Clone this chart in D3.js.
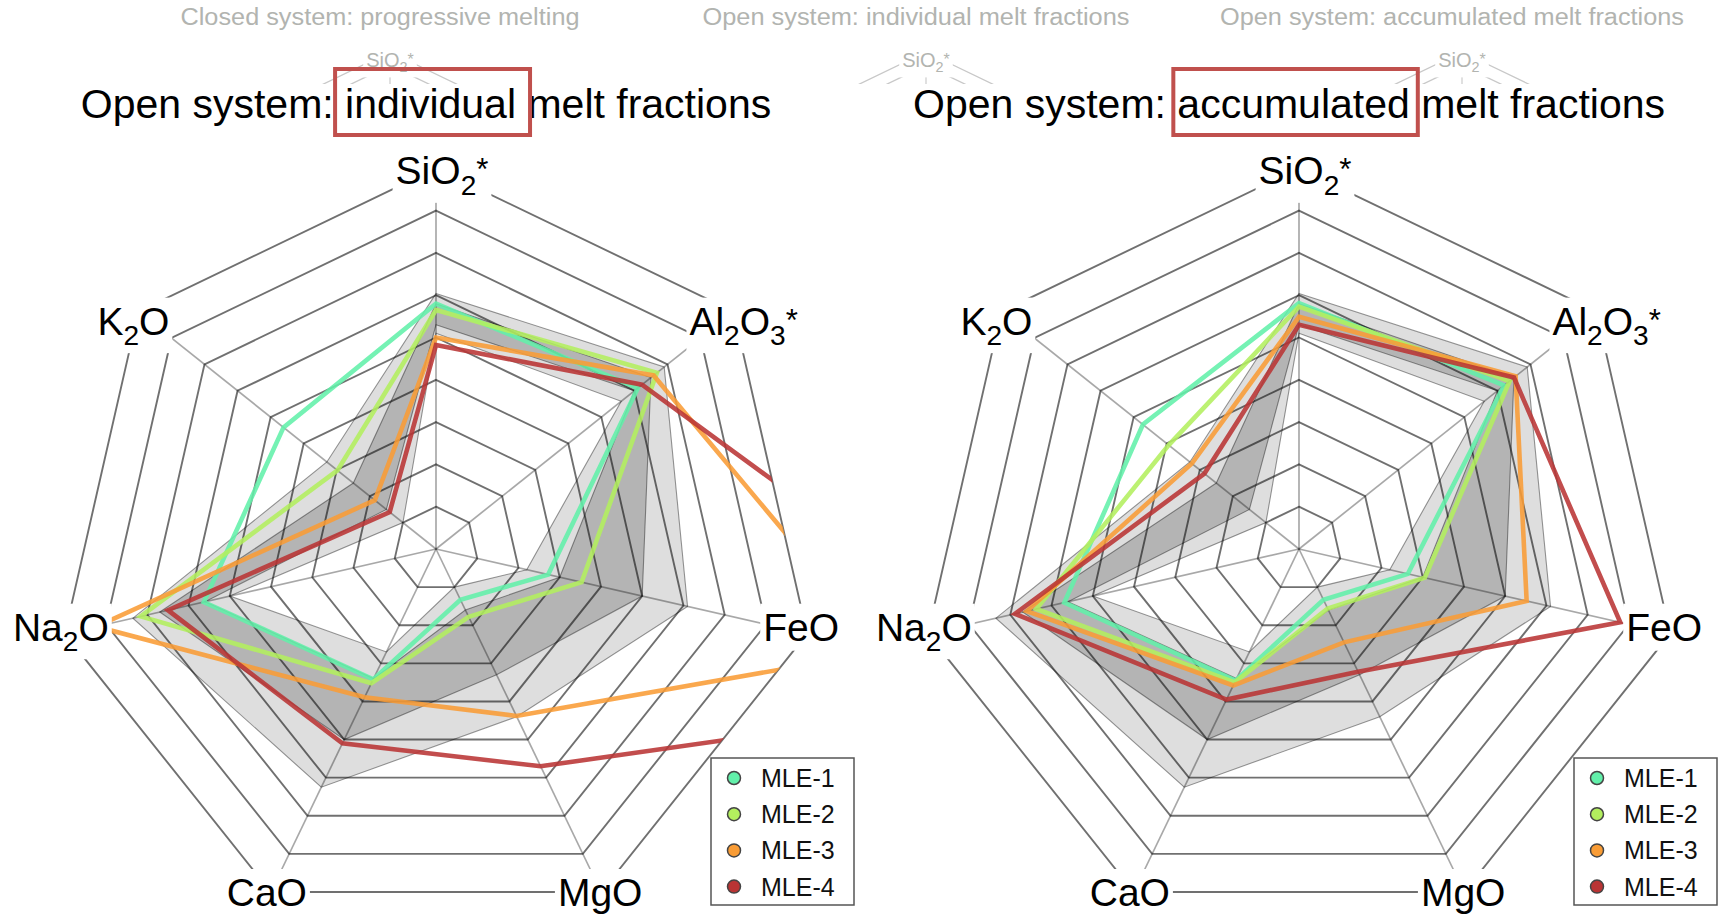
<!DOCTYPE html>
<html>
<head>
<meta charset="utf-8">
<script src="https://cdn.jsdelivr.net/npm/d3@7"></script>
<style>
  html, body { margin: 0; padding: 0; background: #fff; }
  svg { display: block; font-family: "Liberation Sans", Arial, Helvetica, sans-serif; }
</style>
</head>
<body>
<svg id="chart" width="1723" height="914"></svg>
<script>
// ---- axes (oxides), clockwise from the top ----
const axisKeys = ["SiO2*", "Al2O3*", "FeO", "MgO", "CaO", "Na2O", "K2O"];
const axisLabelParts = [
  [["SiO", "n"], ["2", "sub"], ["*", "sup"]],
  [["Al", "n"], ["2", "sub"], ["O", "n"], ["3", "sub"], ["*", "sup"]],
  [["FeO", "n"]],
  [["MgO", "n"]],
  [["CaO", "n"]],
  [["Na", "n"], ["2", "sub"], ["O", "n"]],
  [["K", "n"], ["2", "sub"], ["O", "n"]]
];
const ringLevels = [1, 2, 3, 4, 5, 6, 7, 8, 9];

// ---- series ----
const seriesNames = ["MLE-1", "MLE-2", "MLE-3", "MLE-4"];
const seriesColors = ["#62f0aa", "#b3ef5e", "#f99c35", "#b93434"];

// individual melt fractions (order of axisKeys)
const individualMLE1 = [5.8, 6.1, 2.72, 1.33, 3.42, 5.63, 4.61];
const individualMLE2 = [5.65, 6.68, 3.53, 1.78, 3.52, 7.16, 2.98];
const individualMLE3 = [5.0, 6.58, 10.87, 4.38, 3.89, 8.24, 1.85];
const individualMLE4 = [4.82, 6.23, 15.2, 5.7, 5.1, 6.5, 1.4];

// accumulated melt fractions
const accumulatedMLE1 = [5.81, 6.2, 2.64, 1.33, 3.45, 5.69, 4.72];
const accumulatedMLE2 = [5.73, 6.37, 3.05, 1.56, 3.5, 6.37, 3.94];
const accumulatedMLE3 = [5.49, 6.55, 5.52, 2.45, 3.58, 6.6, 3.24];
const accumulatedMLE4 = [5.3, 6.5, 7.79, 3.22, 3.95, 6.89, 2.86];

// observed compositional envelopes (outer / inner limits)
const wideBandOuter = [6.04, 6.9, 6.1, 4.4, 6.25, 7.35, 3.3];
const wideBandInner = [5.1, 5.6, 2.2, 1.0, 2.7, 5.0, 1.0];
const coreBandOuter = [5.8, 6.5, 5.0, 3.3, 5.0, 6.7, 2.5];
const coreBandInner = [5.3, 6.0, 3.0, 1.6, 3.4, 5.6, 1.5];

// ---- titles ----
const panelTitles = [
  ["Open system: ", "individual", " melt fractions"],
  ["Open system: ", "accumulated", " melt fractions"]
];
const backdropTitles = [
  "Closed system: progressive melting",
  "Open system: individual melt fractions",
  "Open system: accumulated melt fractions"
];

// ---------------------------------------------------------------
const W = 1723, H = 914;
const svg = d3.select("#chart");
const defs = svg.append("defs");

const R = 380.7;
const maxLevel = d3.max(ringLevels);
const rScale = d3.scaleLinear().domain([0, maxLevel]).range([0, R]);
const angle = d3.scalePoint().domain(axisKeys)
  .range([0, 2 * Math.PI * (axisKeys.length - 1) / axisKeys.length]);

const radial = d3.lineRadial()
  .angle((d, i) => angle(axisKeys[i]))
  .radius(d => rScale(d))
  .curve(d3.curveLinearClosed);

function vertex(v, i, scale = rScale) {
  const a = angle(axisKeys[i]);
  return [scale(v) * Math.sin(a), -scale(v) * Math.cos(a)];
}

function addLabel(g, parts, x, y, fs, fill) {
  const t = g.append("text")
    .attr("x", x).attr("y", y)
    .attr("text-anchor", "middle")
    .attr("font-size", fs)
    .attr("fill", fill);
  let off = 0;
  parts.forEach(([txt, kind]) => {
    const target = kind === "sub" ? 0.27 * fs : kind === "sup" ? -0.1 * fs : 0;
    const size = kind === "n" ? fs : kind === "sub" ? 0.72 * fs : 0.8 * fs;
    t.append("tspan").attr("dy", target - off).attr("font-size", size).text(txt);
    off = target;
  });
  const bb = t.node().getBBox();
  g.insert("rect", () => t.node())
    .attr("x", bb.x - 3).attr("y", bb.y - 2)
    .attr("width", bb.width + 6).attr("height", bb.height + 4)
    .attr("fill", "#fff");
  return t;
}

// ---- faint backdrop slide headings ----
defs.append("clipPath").attr("id", "backdropClip")
  .append("rect").attr("x", 0).attr("y", 0).attr("width", W).attr("height", 84);
const backdrop = svg.append("g").attr("clip-path", "url(#backdropClip)");
const backdropX = [380, 916, 1452];
const backdropW = [399, 427, 464];
const thumbScale = d3.scaleLinear().domain([0, maxLevel]).range([0, 150]);
backdropTitles.forEach((txt, k) => {
  backdrop.append("text")
    .attr("x", backdropX[k]).attr("y", 25)
    .attr("text-anchor", "middle")
    .attr("font-size", 23)
    .attr("textLength", backdropW[k])
    .attr("lengthAdjust", "spacingAndGlyphs")
    .attr("fill", "#b2b4b0")
    .text(txt);
  const cxT = backdropX[k] + 10, cyT = 52 + 150;
  const tg = backdrop.append("g").attr("transform", `translate(${cxT},${cyT})`);
  const thumbLine = d3.lineRadial()
    .angle((d, i) => angle(axisKeys[i]))
    .radius(d => thumbScale(d))
    .curve(d3.curveLinearClosed);
  [9, 8.2].forEach(lv => {
    tg.append("path").attr("d", thumbLine(axisKeys.map(() => lv)))
      .attr("fill", "none").attr("stroke", "#c8c8c8").attr("stroke-width", 1.3);
  });
  tg.append("line").attr("x1", 0).attr("y1", -thumbScale(8.2)).attr("x2", 0).attr("y2", 0)
    .attr("stroke", "#d0d0d0").attr("stroke-width", 1.3);
  addLabel(backdrop, axisLabelParts[0], cxT, 67, 20, "#b2b4b0");
});

// ---- main panels ----
const panels = [
  { cx: 436, cy: 549, title: panelTitles[0], boxPad: [10, 14],
    series: [individualMLE1, individualMLE2, individualMLE3, individualMLE4] },
  { cx: 1299, cy: 549, title: panelTitles[1], boxPad: [4, 8],
    series: [accumulatedMLE1, accumulatedMLE2, accumulatedMLE3, accumulatedMLE4] }
];

// small nudges so the multi-part labels sit like the original typesetting
const labelNudge = [[6, 2], [10, 9], [-6, -7], [-1, 0], [-4, 0], [-4, -7], [-5, 9]];

panels.forEach((p, pi) => {
  const g = svg.append("g").attr("transform", `translate(${p.cx},${p.cy})`);
  const outerRing = axisKeys.map(() => maxLevel);

  const clipId = "webClip" + pi;
  defs.append("clipPath").attr("id", clipId)
    .append("path").attr("d", radial(outerRing))
    .attr("transform", `translate(${p.cx},${p.cy})`);

  // envelopes
  const bands = g.append("g");
  [[wideBandOuter, wideBandInner, 0.13], [coreBandOuter, coreBandInner, 0.19]].forEach(([o, inn, a]) => {
    bands.append("path")
      .attr("d", radial(o) + radial(inn))
      .attr("fill-rule", "evenodd")
      .attr("fill", "#000").attr("fill-opacity", a)
      .attr("stroke", "#000").attr("stroke-opacity", 0.4).attr("stroke-width", 1.1);
  });

  // web
  const web = g.append("g");
  axisKeys.forEach((k, i) => {
    const [x, y] = vertex(maxLevel, i);
    web.append("line").attr("x1", 0).attr("y1", 0).attr("x2", x).attr("y2", y)
      .attr("stroke", "#000").attr("stroke-opacity", 0.34).attr("stroke-width", 1.7);
  });
  ringLevels.forEach(lv => {
    web.append("path").attr("d", radial(axisKeys.map(() => lv)))
      .attr("fill", "none")
      .attr("stroke", "#000").attr("stroke-opacity", 0.56).attr("stroke-width", 1.9);
  });

  // series polygons, clipped to the outer ring
  const lines = svg.append("g").attr("clip-path", `url(#${clipId})`)
    .append("g").attr("transform", `translate(${p.cx},${p.cy})`);
  p.series.forEach((vals, si) => {
    lines.append("path").attr("d", radial(vals))
      .attr("fill", "none")
      .attr("stroke", seriesColors[si])
      .attr("stroke-width", 4.6)
      .attr("stroke-opacity", 0.88)
      .attr("stroke-linejoin", "miter");
  });

  // axis labels on white
  const labels = svg.append("g").attr("transform", `translate(${p.cx},${p.cy})`);
  axisKeys.forEach((k, i) => {
    const [x, y] = vertex(maxLevel, i);
    addLabel(labels, axisLabelParts[i], x + labelNudge[i][0], y + labelNudge[i][1] + 14, 39, "#000");
  });

  // title with highlighted word
  const tx = p.cx - 10, ty = 118;
  const title = svg.append("text")
    .attr("x", tx).attr("y", ty)
    .attr("text-anchor", "middle")
    .attr("font-size", 41)
    .attr("fill", "#000");
  p.title.forEach(s => title.append("tspan").text(s));
  const node = title.node();
  const total = node.getComputedTextLength();
  const pre = p.title[0].length, wl = p.title[1].length;
  const x0 = tx - total / 2;
  const ws = x0 + node.getSubStringLength(0, pre);
  const we = ws + node.getSubStringLength(pre, wl);
  svg.append("rect")
    .attr("x", ws - p.boxPad[0]).attr("y", 69)
    .attr("width", we - ws + p.boxPad[0] + p.boxPad[1]).attr("height", 66)
    .attr("fill", "none")
    .attr("stroke", "#c0504d").attr("stroke-width", 4);

  // legend
  const lx = p.cx + 275, ly = 758;
  const leg = svg.append("g").attr("transform", `translate(${lx},${ly})`);
  leg.append("rect").attr("width", 143).attr("height", 147)
    .attr("fill", "#fff").attr("stroke", "#555").attr("stroke-width", 1.5);
  seriesNames.forEach((name, si) => {
    const yy = 20 + si * 36.2;
    leg.append("circle").attr("cx", 23).attr("cy", yy).attr("r", 6.5)
      .attr("fill", seriesColors[si]).attr("stroke", "#444").attr("stroke-width", 1.5);
    leg.append("text").attr("x", 50).attr("y", yy + 9)
      .attr("font-size", 25).attr("fill", "#111").text(name);
  });
});
</script>
</body>
</html>
